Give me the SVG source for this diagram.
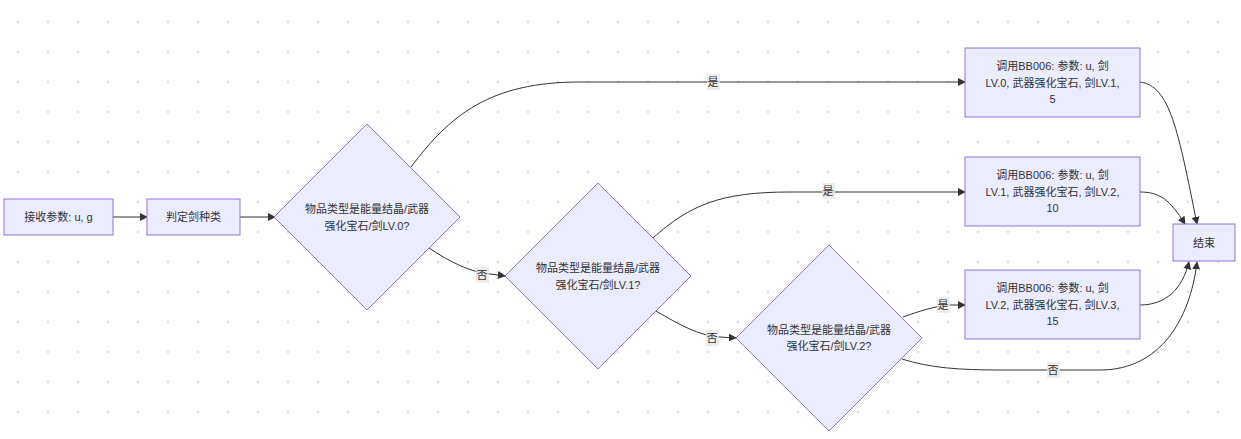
<svg xmlns="http://www.w3.org/2000/svg" width="1241" height="439" viewBox="0 0 1241 439">
<style>
.node rect, .node polygon { fill: #ECECFF; stroke: #9370DB; stroke-width: 1; }
.node text, .lbl text { font-family: "Liberation Sans", "Noto Sans CJK SC", sans-serif; font-size: 11px; fill: #333333; text-anchor: middle; dominant-baseline: central; }
.edges path { fill: none; stroke: #333333; stroke-width: 1; }
.lbl rect { fill: #e8e8e8; fill-opacity: 0.8; }
</style>
<defs>
<pattern id="dots" x="0" y="0" width="30" height="30" patternUnits="userSpaceOnUse">
<circle cx="18" cy="22" r="1.4" fill="#e2e2e2"/>
</pattern>
<marker id="arr" viewBox="0 0 10 10" refX="9" refY="5" markerWidth="8" markerHeight="8" markerUnits="userSpaceOnUse" orient="auto">
<path d="M0,0 L10,5 L0,10 z" fill="#333333"/>
</marker>
</defs>
<rect width="1241" height="439" fill="#ffffff"/>
<rect width="1241" height="439" fill="url(#dots)"/>

<g class="edges">
<path d="M113,217 L147,217" marker-end="url(#arr)"/>
<path d="M240,217 L275,217" marker-end="url(#arr)"/>
<path d="M411,167 C450,115 490,82 580,82 L965,82" marker-end="url(#arr)"/>
<path d="M429,248 C450,262 470,272 490,274 L505,276" marker-end="url(#arr)"/>
<path d="M653,238 C690,205 720,192 790,192 L965,192" marker-end="url(#arr)"/>
<path d="M656,311 C680,325 700,336 720,337 L736,338" marker-end="url(#arr)"/>
<path d="M903,317 C920,311 935,306 950,305 L965,305" marker-end="url(#arr)"/>
<path d="M902,359 C930,368 960,370 1000,370 L1100,370 C1160,370 1190,320 1197,262" marker-end="url(#arr)"/>
<path d="M1140,82 C1170,86 1178,130 1197,224" marker-end="url(#arr)"/>
<path d="M1140,192 C1160,192 1170,200 1185,224" marker-end="url(#arr)"/>
<path d="M1140,305 C1165,305 1182,290 1189,262" marker-end="url(#arr)"/>
</g>

<g class="lbl">
<rect x="707" y="74" width="13" height="16"/><text x="713" y="82">是</text>
<rect x="476" y="267" width="13" height="16"/><text x="482" y="275">否</text>
<rect x="822" y="183" width="13" height="16"/><text x="828" y="191">是</text>
<rect x="706" y="330" width="13" height="16"/><text x="712" y="338">否</text>
<rect x="937" y="297" width="13" height="16"/><text x="943" y="305">是</text>
<rect x="1047" y="362" width="13" height="16"/><text x="1053" y="370">否</text>
</g>

<g class="node" id="nodeA">
<rect x="4" y="199" width="109" height="36"/>
<text x="58.5" y="217">接收参数: u, g</text>
</g>
<g class="node" id="nodeB">
<rect x="147" y="199" width="93" height="36"/>
<text x="193.5" y="217">判定剑种类</text>
</g>
<g class="node" id="nodeC">
<polygon points="367,124 460,217 367,310 274,217"/>
<text x="367" y="209">物品类型是能量结晶/武器</text>
<text x="367" y="226">强化宝石/剑LV.0?</text>
</g>
<g class="node" id="nodeD">
<polygon points="598,183 691,276 598,369 505,276"/>
<text x="598" y="268">物品类型是能量结晶/武器</text>
<text x="598" y="284.5">强化宝石/剑LV.1?</text>
</g>
<g class="node" id="nodeE">
<polygon points="829,245 922,338 829,431 736,338"/>
<text x="829" y="329.5">物品类型是能量结晶/武器</text>
<text x="829" y="346">强化宝石/剑LV.2?</text>
</g>
<g class="node" id="nodeF">
<rect x="965" y="48" width="175" height="69"/>
<text x="1052.5" y="66">调用BB006: 参数: u, 剑</text>
<text x="1052.5" y="82.5">LV.0, 武器强化宝石, 剑LV.1,</text>
<text x="1052.5" y="99">5</text>
</g>
<g class="node" id="nodeG">
<rect x="965" y="157" width="175" height="69"/>
<text x="1052.5" y="175">调用BB006: 参数: u, 剑</text>
<text x="1052.5" y="191.5">LV.1, 武器强化宝石, 剑LV.2,</text>
<text x="1052.5" y="208">10</text>
</g>
<g class="node" id="nodeH">
<rect x="965" y="270" width="175" height="69"/>
<text x="1052.5" y="288">调用BB006: 参数: u, 剑</text>
<text x="1052.5" y="304.5">LV.2, 武器强化宝石, 剑LV.3,</text>
<text x="1052.5" y="321">15</text>
</g>
<g class="node" id="nodeEnd">
<rect x="1173" y="224" width="62" height="37"/>
<text x="1204" y="242.5">结束</text>
</g>
</svg>
